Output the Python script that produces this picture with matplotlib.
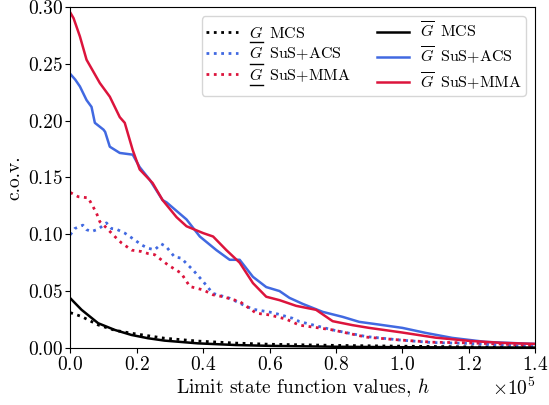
import numpy as np
import matplotlib
matplotlib.use("Agg")
import matplotlib.pyplot as plt
from matplotlib.ticker import FormatStrFormatter
from matplotlib.lines import Line2D

plt.rcParams['font.family'] = 'serif'
plt.rcParams['font.serif'] = ['cmr10']
plt.rcParams['mathtext.fontset'] = 'cm'
plt.rcParams['axes.formatter.use_mathtext'] = True

H_SCALE = 1e5  # h values below are in units of 1e5

# G-bar (upper bound), solid lines
h_bar_mcs = [0.0, 0.034, 0.084, 0.134, 0.184, 0.234, 0.284, 0.384, 0.5, 0.6, 0.8, 1.0, 1.2, 1.4]
c_bar_mcs = [0.0437, 0.0335, 0.0217, 0.0158, 0.0114, 0.0085, 0.0064, 0.004, 0.0025, 0.0018, 0.0010, 0.0006, 0.0004, 0.0003]

h_bar_acs = [0.0, 0.015, 0.029, 0.049, 0.064, 0.074, 0.100, 0.105, 0.119, 0.149, 0.188, 0.209,
             0.239, 0.278, 0.29, 0.35, 0.39, 0.44, 0.48, 0.51, 0.55, 0.59, 0.63, 0.66, 0.70,
             0.76, 0.82, 0.87, 0.93, 1.00, 1.07, 1.15, 1.25, 1.32, 1.40]
c_bar_acs = [0.241, 0.236, 0.230, 0.218, 0.212, 0.198, 0.192, 0.190, 0.177, 0.1715, 0.170, 0.159,
             0.148, 0.130, 0.128, 0.113, 0.098, 0.086, 0.0775, 0.0775, 0.0625, 0.0535, 0.050, 0.044, 0.0387,
             0.0317, 0.0273, 0.0229, 0.0205, 0.0176, 0.0132, 0.0088, 0.0053, 0.0044, 0.0035]

h_bar_mma = [0.0, 0.010, 0.029, 0.049, 0.089, 0.119, 0.149, 0.164, 0.188, 0.209, 0.248, 0.278,
             0.32, 0.35, 0.40, 0.43, 0.47, 0.51, 0.55, 0.59, 0.63, 0.68, 0.74, 0.79, 0.85,
             0.90, 1.00, 1.10, 1.20, 1.30, 1.40]
c_bar_mma = [0.295, 0.290, 0.274, 0.2535, 0.233, 0.221, 0.203, 0.198, 0.174, 0.157, 0.145, 0.130,
             0.115, 0.107, 0.101, 0.098, 0.086, 0.075, 0.057, 0.045, 0.042, 0.037, 0.0335, 0.0235, 0.020,
             0.0176, 0.0135, 0.0090, 0.0062, 0.0044, 0.0035]

# G-underline (lower bound), dotted lines
h_und_mcs = [0.0, 0.034, 0.084, 0.134, 0.184, 0.284, 0.384, 0.5, 0.6, 0.8, 1.0, 1.2, 1.4]
c_und_mcs = [0.031, 0.0276, 0.0202, 0.0155, 0.0129, 0.0085, 0.006, 0.0042, 0.0032, 0.0022, 0.0015, 0.0009, 0.0005]

h_und_acs = [0.0, 0.0135, 0.038, 0.049, 0.064, 0.084, 0.109, 0.124, 0.139, 0.164, 0.194, 0.214,
             0.234, 0.254, 0.274, 0.289, 0.314, 0.334, 0.354, 0.369, 0.40, 0.429, 0.48, 0.52,
             0.55, 0.61, 0.67, 0.69, 0.79, 0.89, 0.99, 1.09, 1.19, 1.29, 1.40]
c_und_acs = [0.0995, 0.105, 0.108, 0.104, 0.1024, 0.1044, 0.110, 0.105, 0.1044, 0.101, 0.095, 0.0907,
             0.0877, 0.0863, 0.0915, 0.089, 0.080, 0.079, 0.073, 0.0687, 0.0584, 0.048, 0.0437, 0.0379,
             0.034, 0.031, 0.026, 0.0232, 0.0158, 0.010, 0.007, 0.0047, 0.004, 0.0026, 0.0011]

h_und_mma = [0.0, 0.024, 0.054, 0.069, 0.079, 0.089, 0.104, 0.134, 0.154, 0.185, 0.214, 0.234,
             0.254, 0.274, 0.294, 0.334, 0.36, 0.40, 0.43, 0.46, 0.51, 0.56, 0.60, 0.65,
             0.69, 0.79, 0.89, 0.99, 1.09, 1.19, 1.29, 1.40]
c_und_mma = [0.1367, 0.133, 0.132, 0.124, 0.1185, 0.111, 0.107, 0.098, 0.0924, 0.086, 0.0848, 0.083,
             0.082, 0.0775, 0.073, 0.0657, 0.054, 0.051, 0.0467, 0.045, 0.0408, 0.0305, 0.029, 0.0253,
             0.020, 0.0158, 0.0095, 0.007, 0.005, 0.0045, 0.0035, 0.002]

BLUE = '#4169E1'
RED = '#DC143C'
FS = 14
LEG_FS = 11.5

fig = plt.figure(figsize=(5.49, 4.05), dpi=100)
ax = fig.add_axes([0.128, 0.141, 0.847, 0.842])

def h(v):
    return np.asarray(v) * H_SCALE

ax.plot(h(h_und_mcs), c_und_mcs, ':', color='black', lw=2.0, label=r'$G\,$ MCS')
ax.plot(h(h_und_acs), c_und_acs, ':', color=BLUE, lw=2.0, label=r'$G\,$ SuS+ACS')
ax.plot(h(h_und_mma), c_und_mma, ':', color=RED, lw=2.0, label=r'$G\,$ SuS+MMA')
ax.plot(h(h_bar_mcs), c_bar_mcs, '-', color='black', lw=1.8, label=r'$\overline{G}\,$ MCS')
ax.plot(h(h_bar_acs), c_bar_acs, '-', color=BLUE, lw=1.8, label=r'$\overline{G}\,$ SuS+ACS')
ax.plot(h(h_bar_mma), c_bar_mma, '-', color=RED, lw=1.8, label=r'$\overline{G}\,$ SuS+MMA')

ax.set_xlim(0, 1.4e5)
ax.set_ylim(0, 0.30)
ax.set_xticks(np.arange(0, 1.41e5, 0.2e5))
ax.set_yticks(np.arange(0, 0.301, 0.05))
ax.ticklabel_format(axis='x', style='sci', scilimits=(0, 0))
ax.yaxis.set_major_formatter(FormatStrFormatter('%.2f'))
ax.tick_params(labelsize=FS, pad=2)
ax.xaxis.get_offset_text().set_fontsize(FS)

ax.set_xlabel(r'Limit state function values, $h$', fontsize=FS, labelpad=2)
ax.set_ylabel('c.o.v.', fontsize=FS, labelpad=3)

leg = ax.legend(loc='upper right', ncol=2, fontsize=LEG_FS, frameon=True,
                handlelength=2.0, columnspacing=1.6, borderaxespad=0.6,
                borderpad=0.25, labelspacing=0.25, handletextpad=0.7)

# mathtext has no \underline: draw the bar under G by hand for the first three entries
fig.canvas.draw()
renderer = fig.canvas.get_renderer()
for txt in leg.get_texts()[:3]:
    bb = txt.get_window_extent(renderer)
    w, hh, d = renderer.get_text_width_height_descent('$G$', txt.get_fontproperties(), ismath=True)
    y = bb.y0 - 1.5
    x0 = bb.x0 + 0.5
    x1 = bb.x0 + w
    fig.add_artist(Line2D([x0 / fig.bbox.width, x1 / fig.bbox.width],
                          [y / fig.bbox.height, y / fig.bbox.height],
                          transform=fig.transFigure, color='black', lw=1.0))

fig.savefig('out.png', dpi=100)
